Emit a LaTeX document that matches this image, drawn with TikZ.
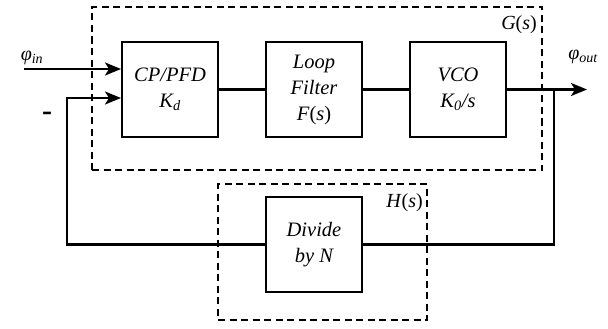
\documentclass[tikz,border=0pt]{standalone}
\usepackage{fontspec}
\setmainfont{Liberation Serif}
\usetikzlibrary{arrows.meta}
\newcommand{\pp}[1]{\textup{(}#1\textup{)}}
\begin{document}
\begin{tikzpicture}[x=1pt,y=-1pt,
  blk/.style={draw,line width=2pt,minimum width=96pt,minimum height=95pt,inner sep=0pt,align=center,
    font=\itshape\fontsize{20.5}{26}\selectfont},
  grp/.style={draw,line width=1.8pt,dash pattern=on 7pt off 4.5pt,inner sep=0pt},
  wire/.style={line width=2.2pt},
  arr/.style={wire,-{Stealth[length=16pt,width=13pt,inset=4pt]}},
  lbl/.style={inner sep=0pt,font=\itshape\fontsize{20}{22}\selectfont}]
\useasboundingbox (0,0) rectangle (608,329);
% groups
\node[grp,minimum width=450pt,minimum height=163pt] (gbox) at (317,88.5) {};
\node[grp,minimum width=209pt,minimum height=136pt] (hbox) at (322.5,252) {};
% blocks
\node[blk] (cp) at (170,89.5) {CP/PFD\\K\textsubscript{d}};
\node[blk] (lf) at (314,89.5) {Loop\\Filter\\F\pp{s}};
\node[blk] (vco) at (458,89.5) {VCO\\K\textsubscript{0}/s};
\node[blk] (div) at (314,244.5) {Divide\\by N};
% labels
\node[lbl,anchor=east] (glab) at (537,25) {G\pp{s}};
\node[lbl,anchor=east] (hlab) at (423,203) {H\pp{s}};
\node[lbl] (phin) at (32,58) {φ\textsubscript{in}};
\node[lbl] (phout) at (583,57) {φ\textsubscript{out}};
\node[inner sep=0pt,font=\bfseries\fontsize{30}{30}\selectfont] (minus) at (47,116) {-};
% coordinates
\coordinate (ins) at (24,69);
\coordinate (fbc) at (67,98);
\coordinate (tap) at (554,89.5);
\coordinate (out) at (587,89.5);
% connectors
\draw[arr] (ins) -- (ins -| cp.west);
\draw[arr] (div.west) -| (fbc) -- (fbc -| cp.west);
\draw[wire] (cp.east) -- (lf.west);
\draw[wire] (lf.east) -- (vco.west);
\draw[arr] (vco.east) -- (out);
\draw[wire] (tap) |- (div.east);
\end{tikzpicture}
\end{document}
